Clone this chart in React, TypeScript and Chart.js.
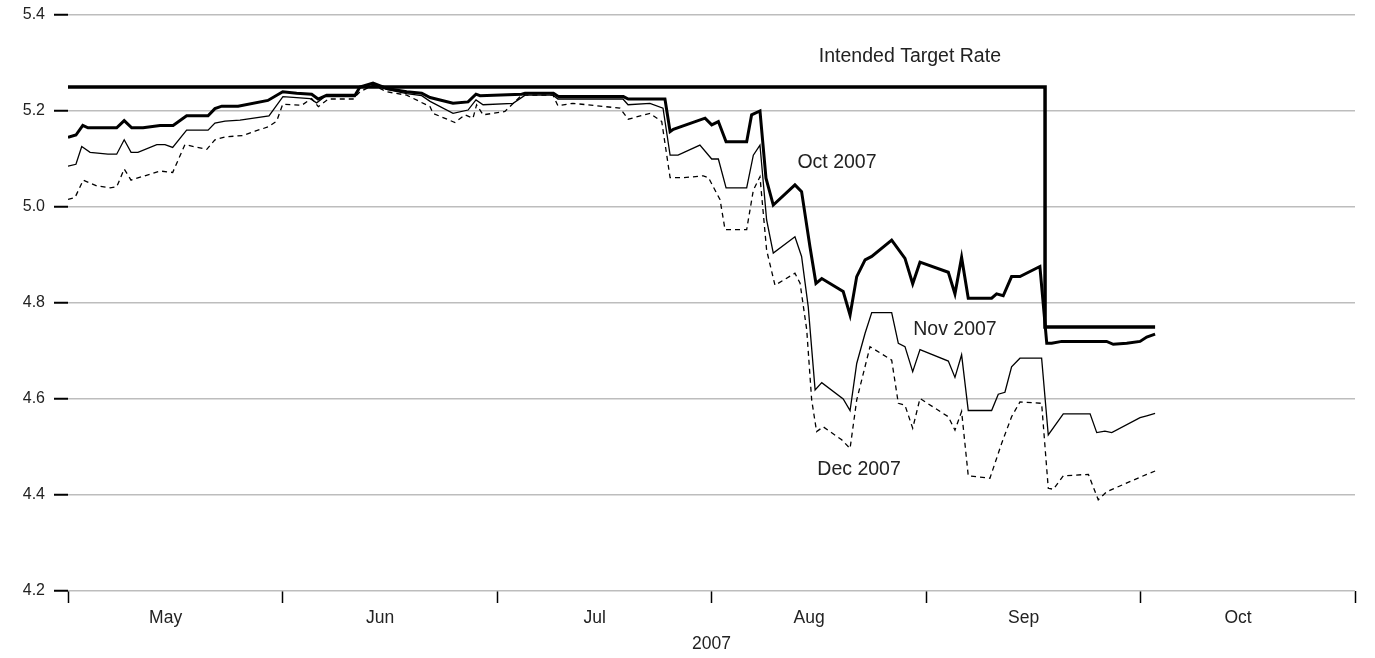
import React, { useEffect, useRef } from "react";
import { Chart, registerables } from "chart.js";

Chart.register(...registerables);

// x values are time in months since 1 May 2007 (0 = May 1, 1 = Jun 1, ...)
const monthLabels = ["May", "Jun", "Jul", "Aug", "Sep", "Oct"];
const yearLabel = "2007";

const targetT = [0, 4.555, 4.555, 5.068];
const targetRate = [5.25, 5.25, 4.75, 4.75];

const octT = [
  0, 0.037, 0.069, 0.093, 0.227, 0.262, 0.297, 0.35, 0.429, 0.49, 0.553, 0.653, 0.685, 0.717, 0.793, 0.932,
  1.001, 1.066, 1.136, 1.166, 1.206, 1.338, 1.361, 1.422, 1.486, 1.579, 1.649, 1.688, 1.795, 1.865, 1.902, 1.921,
  2.115, 2.131, 2.263, 2.286, 2.589, 2.612, 2.783, 2.807, 2.822, 2.97,
  3.001, 3.032, 3.068, 3.164, 3.187, 3.226, 3.254, 3.288, 3.389, 3.42, 3.459, 3.487, 3.514, 3.614, 3.646, 3.677,
  3.716, 3.747, 3.84, 3.902, 3.938, 3.972,
  4.104, 4.135, 4.166, 4.197, 4.306, 4.329, 4.36, 4.399, 4.438, 4.531, 4.563, 4.586, 4.633, 4.842, 4.873, 4.936,
  4.998, 5.029, 5.068,
];
const octRate = [
  5.145, 5.15, 5.17, 5.165, 5.165, 5.18, 5.165, 5.165, 5.17, 5.17, 5.19, 5.19, 5.205, 5.21, 5.21, 5.222,
  5.24, 5.237, 5.235, 5.225, 5.233, 5.233, 5.25, 5.258, 5.247, 5.24, 5.237, 5.228, 5.216, 5.219, 5.235, 5.232,
  5.235, 5.237, 5.237, 5.23, 5.23, 5.225, 5.225, 5.157, 5.162, 5.185,
  5.171, 5.178, 5.136, 5.136, 5.192, 5.2, 5.06, 5.004, 5.046, 5.032, 4.917, 4.841, 4.851, 4.824, 4.775, 4.855,
  4.89, 4.897, 4.931, 4.893, 4.84, 4.885,
  4.864, 4.819, 4.895, 4.81, 4.81, 4.819, 4.815, 4.855, 4.855, 4.876, 4.716, 4.716, 4.72, 4.72, 4.714, 4.716,
  4.72, 4.729, 4.735,
];

const novT = [
  0, 0.037, 0.064, 0.103, 0.186, 0.227, 0.262, 0.294, 0.326, 0.414, 0.452, 0.488, 0.553, 0.653, 0.685, 0.732,
  0.802, 0.937, 1.002, 1.066, 1.128, 1.159, 1.198, 1.338, 1.361, 1.422, 1.486, 1.579, 1.649, 1.688, 1.795, 1.865,
  1.902, 1.935, 2.075, 2.131, 2.261, 2.284, 2.587, 2.611, 2.713, 2.774, 2.807, 2.844, 2.946,
  3.001, 3.032, 3.068, 3.164, 3.195, 3.226, 3.257, 3.288, 3.389, 3.42, 3.451, 3.483, 3.514, 3.614, 3.646, 3.677,
  3.716, 3.747, 3.84, 3.871, 3.902, 3.938, 3.972,
  4.104, 4.135, 4.166, 4.197, 4.306, 4.337, 4.368, 4.399, 4.438, 4.539, 4.57, 4.64, 4.765, 4.796, 4.834, 4.866,
  4.998, 5.029, 5.068,
];
const novRate = [
  5.085, 5.089, 5.126, 5.114, 5.11, 5.11, 5.14, 5.114, 5.114, 5.13, 5.13, 5.124, 5.16, 5.16, 5.175, 5.179,
  5.181, 5.19, 5.23, 5.228, 5.226, 5.217, 5.23, 5.23, 5.25, 5.256, 5.245, 5.236, 5.232, 5.22, 5.195, 5.202,
  5.223, 5.213, 5.216, 5.233, 5.233, 5.225, 5.225, 5.213, 5.216, 5.206, 5.108, 5.108, 5.129,
  5.1, 5.1, 5.04, 5.04, 5.108, 5.129, 4.973, 4.904, 4.938, 4.897, 4.792, 4.619, 4.634, 4.6, 4.576, 4.674,
  4.737, 4.78, 4.78, 4.716, 4.709, 4.657, 4.703,
  4.679, 4.645, 4.692, 4.576, 4.576, 4.61, 4.614, 4.667, 4.685, 4.685, 4.525, 4.569, 4.569, 4.53, 4.533, 4.53,
  4.561, 4.565, 4.57,
];

const decT = [
  0, 0.033, 0.071, 0.134, 0.196, 0.227, 0.262, 0.294, 0.429, 0.488, 0.545, 0.647, 0.685, 0.732, 0.817, 0.872,
  0.934, 0.973, 1.001, 1.09, 1.136, 1.167, 1.214, 1.329, 1.361, 1.422, 1.486, 1.579, 1.688, 1.702, 1.804, 1.851,
  1.888, 1.905, 1.935, 2.037, 2.115, 2.261, 2.284, 2.354, 2.573, 2.612, 2.713, 2.768, 2.807, 2.867, 2.962, 2.986,
  3.04, 3.063, 3.164, 3.195, 3.226, 3.257, 3.296, 3.389, 3.413, 3.444, 3.467, 3.49, 3.521, 3.607, 3.646, 3.677,
  3.739, 3.84, 3.871, 3.902, 3.938, 3.972,
  4.104, 4.135, 4.166, 4.197, 4.298, 4.353, 4.399, 4.438, 4.539, 4.57, 4.594, 4.64, 4.757, 4.803, 4.843, 5.029,
  5.068,
];
const decRate = [
  5.016, 5.02, 5.056, 5.044, 5.04, 5.042, 5.079, 5.056, 5.075, 5.072, 5.13, 5.12, 5.14, 5.146, 5.149, 5.158,
  5.167, 5.179, 5.214, 5.212, 5.226, 5.209, 5.225, 5.225, 5.24, 5.254, 5.24, 5.233, 5.209, 5.195, 5.176, 5.192,
  5.185, 5.213, 5.192, 5.199, 5.233, 5.233, 5.211, 5.216, 5.206, 5.183, 5.195, 5.178, 5.061, 5.061, 5.065, 5.061,
  5.015, 4.953, 4.953, 5.035, 5.063, 4.91, 4.837, 4.862, 4.841, 4.744, 4.598, 4.532, 4.542, 4.515, 4.497, 4.598,
  4.709, 4.681, 4.591, 4.587, 4.539, 4.601,
  4.563, 4.535, 4.574, 4.44, 4.435, 4.508, 4.563, 4.594, 4.591, 4.414, 4.412, 4.44, 4.443, 4.39, 4.407, 4.443,
  4.45,
];

const seriesNames = ["Intended Target Rate", "Oct 2007", "Nov 2007", "Dec 2007"];

const toPoints = (t: number[], v: number[]) => t.map((x, i) => ({ x, y: v[i] }));

export default function App() {
  const canvasRef = useRef<HTMLCanvasElement | null>(null);

  useEffect(() => {
    document.body.style.margin = "0";
    const canvas = canvasRef.current;
    if (!canvas) return;

    Chart.defaults.font.family = "'Liberation Sans', Arial, Helvetica, sans-serif";
    Chart.defaults.color = "#222";

    const labelPlugin = {
      id: "seriesLabels",
      afterDatasetsDraw(chart: any) {
        const { ctx, scales } = chart;
        const xs = scales.x;
        const ys = scales.y;
        const spots: [string, number, number][] = [
          [seriesNames[0], 3.925, 5.3125],
          [seriesNames[1], 3.585, 5.092],
          [seriesNames[2], 4.135, 4.744],
          [seriesNames[3], 3.688, 4.452],
        ];
        ctx.save();
        ctx.fillStyle = "#222";
        ctx.font = "19.5px 'Liberation Sans', Arial, sans-serif";
        ctx.textAlign = "center";
        ctx.textBaseline = "middle";
        spots.forEach(([txt, tx, ty]) => {
          ctx.fillText(txt, xs.getPixelForValue(tx), ys.getPixelForValue(ty));
        });
        ctx.font = "17.5px 'Liberation Sans', Arial, sans-serif";
        ctx.fillText(yearLabel, xs.getPixelForValue(3), 644);
        ctx.restore();
      },
    };

    const xTickValues: number[] = [];
    for (let i = 0; i <= 6; i++) {
      xTickValues.push(i);
      if (i < 6) xTickValues.push(i + 0.455);
    }

    const chart = new Chart(canvas, {
      type: "line",
      data: {
        datasets: [
          {
            label: seriesNames[3],
            data: toPoints(decT, decRate),
            borderColor: "#000",
            borderWidth: 1.3,
            borderDash: [5, 4],
            pointRadius: 0,
            tension: 0,
          },
          {
            label: seriesNames[2],
            data: toPoints(novT, novRate),
            borderColor: "#000",
            borderWidth: 1.3,
            pointRadius: 0,
            tension: 0,
          },
          {
            label: seriesNames[1],
            data: toPoints(octT, octRate),
            borderColor: "#000",
            borderWidth: 3,
            pointRadius: 0,
            tension: 0,
          },
          {
            label: seriesNames[0],
            data: toPoints(targetT, targetRate),
            borderColor: "#000",
            borderWidth: 3.5,
            pointRadius: 0,
            tension: 0,
          },
        ],
      },
      options: {
        responsive: false,
        animation: false,
        layout: { padding: { top: 15, right: 20, left: 0, bottom: 0 } },
        plugins: {
          legend: { display: false },
          tooltip: { enabled: false },
        },
        scales: {
          x: {
            type: "linear",
            min: 0,
            max: 6,
            border: { display: false },
            afterBuildTicks: (axis: any) => {
              axis.ticks = xTickValues.map((v) => ({ value: v }));
            },
            afterFit: (axis: any) => {
              axis.height = 67;
              axis.paddingLeft = 0;
              axis.paddingRight = 0;
            },
            grid: {
              drawOnChartArea: false,
              drawTicks: true,
              tickLength: 12,
              tickWidth: 1.5,
              tickColor: (c: any) =>
                c.tick && Number.isInteger(c.tick.value) ? "#000" : "rgba(0,0,0,0)",
            },
            ticks: {
              autoSkip: false,
              maxRotation: 0,
              padding: 5,
              color: "#222",
              font: { size: 17.5 },
              callback: (v: any) => {
                const n = Number(v);
                if (Number.isInteger(n)) return "";
                return monthLabels[Math.floor(n)] ?? "";
              },
            },
          },
          y: {
            type: "linear",
            min: 4.2,
            max: 5.4,
            border: { display: false },
            afterFit: (axis: any) => {
              axis.width = 68;
              axis.paddingTop = 0;
              axis.paddingBottom = 0;
            },
            grid: {
              color: "#bdbdbd",
              lineWidth: 1.5,
              drawTicks: true,
              tickLength: 14,
              tickWidth: 2,
              tickColor: "#000",
            },
            ticks: {
              stepSize: 0.2,
              padding: 9,
              color: "#222",
              font: { size: 16 },
              callback: (v: any) => Number(v).toFixed(1),
            },
          },
        },
      },
      plugins: [labelPlugin],
    });

    return () => chart.destroy();
  }, []);

  return (
    <div style={{ position: "absolute", left: 0, top: 0, width: 1375, height: 658 }}>
      <canvas ref={canvasRef} width={1375} height={658} style={{ display: "block" }} />
    </div>
  );
}
